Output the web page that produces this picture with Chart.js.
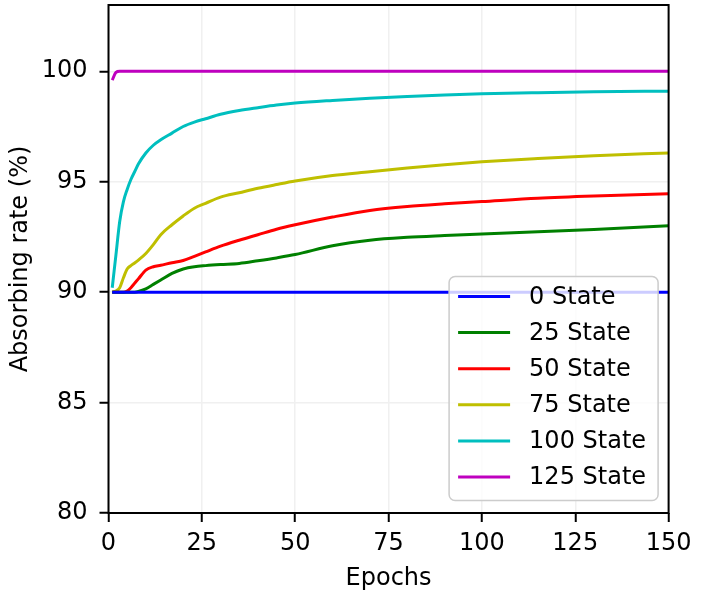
<!DOCTYPE html>
<html>
<head>
<meta charset="utf-8">
<script src="https://cdn.jsdelivr.net/npm/chart.js@4.4.1/dist/chart.umd.min.js"></script>
<style>
    html, body { margin: 0; padding: 0; background: #fff; }
    #chart { display: block; }
</style>
</head>
<body>
<canvas id="chart" width="710" height="590"></canvas>
<script>
const epochs = [1, 2, 3, 4, 5, 6, 7, 8, 10, 12, 14, 17, 20, 23, 26, 30, 35, 40, 45, 50, 60, 70, 80, 90, 100, 115, 130, 150];

const state0 = [90, 90, 90, 90, 90, 90, 90, 90, 90, 90, 90, 90, 90, 90, 90, 90, 90, 90, 90, 90, 90, 90, 90, 90, 90, 90, 90, 90];
const state25 = [90, 90, 90, 90, 90, 90, 90, 90.03, 90.15, 90.35, 90.55, 90.85, 91.05, 91.15, 91.2, 91.25, 91.3, 91.42, 91.55, 91.7, 92.1, 92.35, 92.48, 92.56, 92.63, 92.73, 92.84, 93.0];
const state50 = [90, 90, 90, 90, 90.05, 90.2, 90.4, 90.6, 91.0, 91.15, 91.22, 91.33, 91.43, 91.62, 91.82, 92.08, 92.35, 92.6, 92.85, 93.05, 93.4, 93.7, 93.88, 94.0, 94.1, 94.25, 94.35, 94.45];
const state75 = [90.0, 90.05, 90.2, 90.65, 91.05, 91.2, 91.32, 91.45, 91.75, 92.15, 92.6, 93.05, 93.45, 93.8, 94.02, 94.3, 94.5, 94.7, 94.87, 95.03, 95.28, 95.45, 95.62, 95.77, 95.9, 96.05, 96.18, 96.3];
const state100 = [90.2, 91.7, 93.2, 94.1, 94.65, 95.1, 95.45, 95.8, 96.3, 96.65, 96.9, 97.2, 97.5, 97.7, 97.85, 98.05, 98.22, 98.35, 98.47, 98.56, 98.68, 98.78, 98.86, 98.93, 98.98, 99.03, 99.07, 99.1];
const state125 = [99.6, 99.95, 100, 100, 100, 100, 100, 100, 100, 100, 100, 100, 100, 100, 100, 100, 100, 100, 100, 100, 100, 100, 100, 100, 100, 100, 100, 100];

const seriesLabels = ['0 State', '25 State', '50 State', '75 State', '100 State', '125 State'];
const seriesValues = [state0, state25, state50, state75, state100, state125];
const seriesColors = ['#0000ff', '#008000', '#ff0000', '#bfbf00', '#00bfbf', '#bf00bf'];

const xTicks = [0, 25, 50, 75, 100, 125, 150];
const yTicks = [80, 85, 90, 95, 100];

const fontFamily = '"DejaVu Sans", sans-serif';

// frame on all four sides plus a matplotlib-like legend box in the lower right
const framePlugin = {
    id: 'frameAndLegend',
    afterDatasetsDraw(chart) {
        const { ctx, chartArea } = chart;
        ctx.save();
        ctx.strokeStyle = '#000';
        ctx.lineWidth = 2;
        ctx.strokeRect(chartArea.left, chartArea.top, chartArea.right - chartArea.left, chartArea.bottom - chartArea.top);

        const boxRight = chartArea.right - 10.5;
        const boxBottom = chartArea.bottom - 12.5;
        const boxWidth = 209;
        const boxHeight = 224;
        const boxLeft = boxRight - boxWidth;
        const boxTop = boxBottom - boxHeight;

        ctx.beginPath();
        ctx.roundRect(boxLeft, boxTop, boxWidth, boxHeight, 6);
        ctx.fillStyle = 'rgba(255, 255, 255, 0.8)';
        ctx.fill();
        ctx.strokeStyle = '#cccccc';
        ctx.lineWidth = 1.5;
        ctx.stroke();

        ctx.font = `24px ${fontFamily}`;
        ctx.textBaseline = 'middle';
        ctx.textAlign = 'left';
        chart.data.datasets.forEach((dataset, index) => {
            const rowY = boxTop + 20 + index * 36.1;
            ctx.beginPath();
            ctx.moveTo(boxLeft + 9, rowY);
            ctx.lineTo(boxLeft + 61, rowY);
            ctx.strokeStyle = dataset.borderColor;
            ctx.lineWidth = 3;
            ctx.stroke();
            ctx.fillStyle = '#000';
            ctx.fillText(dataset.label, boxLeft + 80, rowY + 1);
        });
        ctx.restore();
    },
};

new Chart(document.getElementById('chart'), {
    type: 'line',
    data: {
        datasets: seriesLabels.map((label, index) => ({
            label,
            data: epochs.map((epoch, i) => ({ x: epoch, y: seriesValues[index][i] })),
            borderColor: seriesColors[index],
            backgroundColor: seriesColors[index],
            borderWidth: 3,
            pointRadius: 0,
            cubicInterpolationMode: 'monotone',
            fill: false,
        })),
    },
    options: {
        responsive: false,
        devicePixelRatio: 1,
        animation: false,
        layout: { padding: { left: 0, right: 41.4, top: 5, bottom: 0 } },
        plugins: {
            legend: { display: false },
            tooltip: { enabled: false },
        },
        scales: {
            x: {
                type: 'linear',
                min: 0,
                max: 150,
                afterBuildTicks: (scale) => {
                    scale.ticks = xTicks.map((value) => ({ value }));
                },
                afterFit: (scale) => {
                    scale.height = 77;
                    scale.paddingLeft = 0;
                    scale.paddingRight = 0;
                },
                ticks: {
                    color: '#000',
                    font: { family: fontFamily, size: 24 },
                    padding: 7,
                    maxRotation: 0,
                },
                grid: {
                    color: '#f0f0f0',
                    lineWidth: 1.5,
                    tickColor: '#000',
                    tickWidth: 2,
                    tickLength: 9,
                },
                border: { display: false },
                title: {
                    display: true,
                    text: 'Epochs',
                    color: '#000',
                    font: { family: fontFamily, size: 24 },
                    padding: { top: 0, bottom: -3 },
                },
            },
            y: {
                min: 80,
                max: 103,
                afterBuildTicks: (scale) => {
                    scale.ticks = yTicks.map((value) => ({ value }));
                },
                afterFit: (scale) => {
                    scale.width = 108.5;
                    scale.paddingTop = 0;
                    scale.paddingBottom = 0;
                },
                ticks: {
                    color: '#000',
                    font: { family: fontFamily, size: 24 },
                    padding: 12,
                },
                grid: {
                    color: '#f0f0f0',
                    lineWidth: 1.5,
                    tickColor: '#000',
                    tickWidth: 2,
                    tickLength: 9,
                },
                border: { display: false },
                title: {
                    display: true,
                    text: 'Absorbing rate (%)',
                    color: '#000',
                    font: { family: fontFamily, size: 24 },
                    padding: { top: 6, bottom: 0 },
                },
            },
        },
    },
    plugins: [framePlugin],
});
</script>
</body>
</html>
